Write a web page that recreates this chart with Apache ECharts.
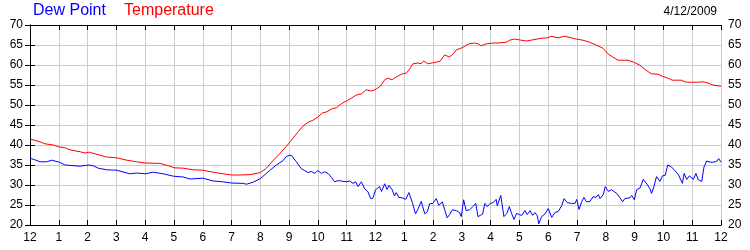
<!DOCTYPE html>
<html>
<head>
<meta charset="utf-8">
<script src="https://cdn.jsdelivr.net/npm/echarts@6/dist/echarts.min.js"></script>
<style>html,body{margin:0;padding:0;background:#fff;}#c{width:750px;height:250px;}</style>
</head>
<body>
<div id="c"></div>
<script>
const hourLabels = ['12','1','2','3','4','5','6','7','8','9','10','11','12','1','2','3','4','5','6','7','8','9','10','11','12'];
const yTicks = [20,25,30,35,40,45,50,55,60,65,70];

const tempHours = [0,0.35,0.52,0.81,1.02,1.22,1.39,1.74,1.91,2.04,2.26,2.66,3.01,3.36,3.70,4.00,4.51,4.86,5.01,5.32,5.67,6.00,6.37,6.71,7.00,7.29,7.64,8.00,8.21,8.44,8.67,8.90,9.08,9.31,9.48,9.66,9.83,10.0,10.15,10.31,10.47,10.64,10.81,10.99,11.16,11.33,11.51,11.68,11.85,11.98,12.17,12.32,12.43,12.58,12.72,12.90,13.07,13.19,13.30,13.47,13.59,13.67,13.82,13.96,14.11,14.25,14.40,14.57,14.69,14.81,14.97,15.10,15.25,15.44,15.56,15.67,15.85,16.08,16.25,16.54,16.66,16.83,16.98,17.24,17.47,17.76,17.99,18.10,18.34,18.57,18.80,18.97,19.20,19.44,19.72,19.90,20.07,20.24,20.42,20.77,20.97,21.17,21.34,21.58,21.81,21.96,22.16,22.31,22.62,22.79,22.97,23.20,23.38,23.55,23.72,24.0];
const tempValues = [41.5,40.8,40.3,40.0,39.5,39.3,38.8,38.3,38.0,38.2,37.8,37.0,36.8,36.2,35.8,35.5,35.4,34.7,34.3,34.2,33.8,33.7,33.2,32.8,32.5,32.5,32.6,33.1,34.2,36.1,37.8,39.6,41.2,43.3,44.7,45.7,46.2,47.0,48.0,48.3,49.0,49.3,50.3,51.0,51.7,52.5,52.8,53.8,53.5,53.8,54.7,56.3,56.7,56.3,57.0,57.7,58.0,59.0,60.3,60.5,60.3,61.0,60.3,60.5,60.7,61.0,62.5,62.0,62.7,63.8,64.2,64.7,65.3,65.5,65.3,64.8,65.3,65.5,65.5,65.7,66.2,66.5,66.3,66.0,66.3,66.7,66.8,67.2,66.8,67.2,66.8,66.5,66.2,65.7,64.8,64.2,62.8,62.0,61.2,61.2,60.7,60.0,59.0,57.8,57.7,57.2,56.7,56.2,56.2,55.7,55.7,55.7,55.8,55.5,55.0,54.7];

const dewHours = [0,0.17,0.35,0.58,0.75,1.02,1.22,1.74,2.04,2.20,2.37,2.66,3.01,3.47,3.70,4.00,4.28,4.63,4.98,5.32,5.56,6.00,6.37,6.71,7.00,7.41,7.52,7.75,8.00,8.21,8.32,8.56,8.79,8.90,9.00,9.08,9.25,9.42,9.54,9.66,9.77,9.89,10.0,10.12,10.23,10.35,10.47,10.58,10.70,10.81,10.99,11.10,11.22,11.31,11.39,11.51,11.62,11.74,11.83,11.91,12.0,12.14,12.21,12.32,12.40,12.47,12.58,12.66,12.72,12.81,12.93,13.05,13.16,13.28,13.39,13.47,13.59,13.71,13.80,13.88,13.99,14.11,14.20,14.32,14.40,14.49,14.57,14.67,14.81,14.92,14.98,15.06,15.15,15.27,15.38,15.48,15.56,15.64,15.72,15.80,15.88,15.98,16.09,16.19,16.23,16.35,16.46,16.56,16.65,16.73,16.81,16.90,17.00,17.08,17.19,17.27,17.37,17.46,17.54,17.62,17.67,17.77,17.89,18.00,18.12,18.23,18.35,18.47,18.55,18.66,18.81,18.93,18.99,19.07,19.16,19.24,19.33,19.45,19.56,19.66,19.74,19.80,19.91,19.98,20.09,20.20,20.38,20.49,20.58,20.66,20.84,20.90,20.99,21.07,21.19,21.24,21.30,21.42,21.53,21.59,21.67,21.76,21.88,21.97,22.06,22.15,22.28,22.40,22.52,22.57,22.66,22.72,22.81,22.90,23.04,23.13,23.21,23.33,23.41,23.50,23.62,23.73,23.85,23.92,24.0];
const dewValues = [36.7,36.3,35.8,35.8,36.2,35.7,35.0,34.7,35.0,34.8,34.2,33.8,33.7,32.8,33.0,32.8,33.2,32.8,32.2,32.0,31.5,31.7,31.0,30.8,30.5,30.4,30.2,30.7,31.6,32.9,33.6,35.0,36.1,37.1,37.4,37.4,35.8,34.1,33.6,33.1,33.4,32.9,33.6,32.9,33.3,32.9,31.9,30.8,31.1,31.0,30.8,31.0,30.4,30.8,29.6,30.8,29.1,28.3,26.6,26.7,28.8,29.6,28.4,30.3,28.9,29.9,28.8,27.3,28.1,26.9,26.8,26.4,28.1,25.6,22.8,23.9,25.9,22.8,23.3,25.3,25.4,26.6,24.9,25.8,23.9,21.8,22.6,23.8,23.6,23.1,22.1,26.3,23.6,23.8,24.6,25.4,22.1,22.4,22.7,25.4,24.6,25.4,25.6,26.4,24.8,27.4,22.1,22.9,24.6,22.8,21.4,22.9,22.6,22.4,23.6,22.6,23.6,22.4,23.1,22.3,20.3,22.1,22.8,24.1,21.9,23.1,23.4,24.9,26.6,25.6,25.4,25.4,26.4,23.9,25.8,26.9,25.8,25.9,27.1,26.9,27.6,26.6,27.6,29.6,28.4,28.8,27.9,26.8,25.8,26.6,26.8,27.4,26.3,28.8,29.3,28.9,31.4,30.3,29.1,27.9,29.6,32.1,30.9,32.3,32.4,35.0,34.5,33.6,32.6,33.1,30.4,32.9,31.4,32.3,31.4,32.9,31.3,30.9,34.5,36.0,35.7,35.7,35.9,36.6,35.7];

const dateText = '4/12/2009';

const pair = (xs, ys) => xs.map((x, i) => [x, ys[i]]);
const FONT = '"Liberation Sans", Arial, sans-serif';

const chart = echarts.init(document.getElementById('c'), null, {renderer: 'canvas'});
const xBase = {
  type: 'value', min: 0, max: 24, interval: 1,
  axisLine: {show: true, lineStyle: {color: '#000', width: 1}},
  axisTick: {show: true, inside: true, length: 5, lineStyle: {color: '#000'}},
};
const yBase = {
  type: 'value', min: yTicks[0], max: yTicks[yTicks.length - 1], interval: 5,
  axisLine: {show: true, lineStyle: {color: '#000', width: 1}},
  axisTick: {show: true, inside: true, length: 5, lineStyle: {color: '#000'}},
  axisLabel: {color: '#000', fontFamily: FONT, fontSize: 12, margin: 7},
};
chart.setOption({
  animation: false,
  backgroundColor: '#fff',
  title: [
    {text: 'Dew Point', left: 33, top: 3, padding: 0, textStyle: {color: '#0000ff', fontFamily: FONT, fontSize: 16, fontWeight: 'normal'}},
    {text: 'Temperature', left: 124, top: 3, padding: 0, textStyle: {color: '#ff0000', fontFamily: FONT, fontSize: 16, fontWeight: 'normal'}},
    {text: dateText, right: 33, top: 6, padding: 0, textStyle: {color: '#000', fontFamily: FONT, fontSize: 12, fontWeight: 'normal'}}
  ],
  grid: {left: 30, right: 29, top: 25, bottom: 25, containLabel: false},
  xAxis: [
    Object.assign({}, xBase, {
      position: 'bottom',
      axisLabel: {color: '#000', fontFamily: FONT, fontSize: 12, margin: 7, showMinLabel: true, showMaxLabel: true,
        formatter: v => hourLabels[Math.round(v)]},
      splitLine: {show: true, lineStyle: {color: '#cccccc', width: 1}}
    }),
    Object.assign({}, xBase, {
      position: 'top',
      axisLabel: {show: false},
      splitLine: {show: false}
    })
  ],
  yAxis: [
    Object.assign({}, yBase, {position: 'left', splitLine: {show: true, lineStyle: {color: '#cccccc', width: 1}}}),
    Object.assign({}, yBase, {position: 'right', splitLine: {show: false}})
  ],
  series: [
    {name: 'Temperature', type: 'line', xAxisIndex: 0, yAxisIndex: 0, data: pair(tempHours, tempValues),
      showSymbol: false, symbol: 'none', lineStyle: {color: '#ff0000', width: 1}, itemStyle: {color: '#ff0000'}},
    {name: 'Dew Point', type: 'line', xAxisIndex: 0, yAxisIndex: 0, data: pair(dewHours, dewValues),
      showSymbol: false, symbol: 'none', lineStyle: {color: '#0000ff', width: 1}, itemStyle: {color: '#0000ff'}}
  ]
});
</script>
</body>
</html>
